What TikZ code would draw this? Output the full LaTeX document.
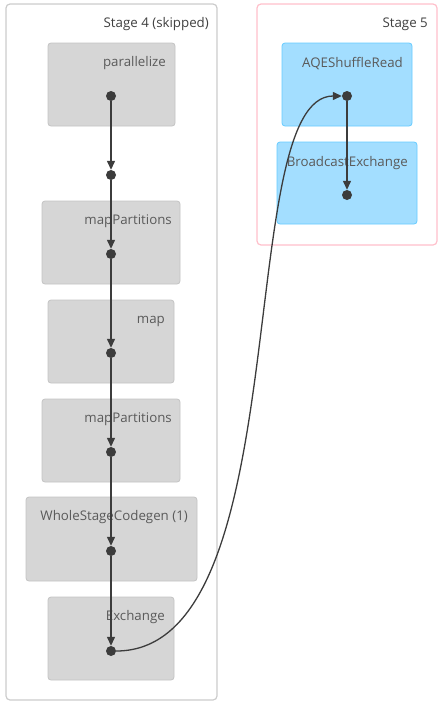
\documentclass[tikz,border=0pt]{standalone}
\usepackage{fontspec}
\setmainfont{Open Sans}
\usetikzlibrary{arrows.meta}
\definecolor{stageborder}{HTML}{CCCCCC}
\definecolor{stageborderB}{HTML}{FFC0CB}
\definecolor{opfill}{HTML}{D6D6D6}
\definecolor{opdraw}{HTML}{C4C4C4}
\definecolor{bfill}{HTML}{A3DEFF}
\definecolor{bdraw}{HTML}{66CCFF}
\definecolor{edgec}{HTML}{3C3C3C}
\definecolor{txtc}{HTML}{5A5A5A}
\begin{document}
\begin{tikzpicture}[x=1pt,y=-1pt,
  stagebox/.style={draw=stageborder,line width=1.2pt,rounded corners=4pt,fill=white},
  opbox/.style={draw=opdraw,fill=opfill,line width=0.8pt,rounded corners=3pt},
  bluebox/.style={draw=bdraw,fill=bfill,line width=0.8pt,rounded corners=3pt},
  optext/.style={anchor=east,font=\fontsize{13.3}{15}\selectfont,text=txtc,inner sep=0pt},
  stagetext/.style={anchor=east,font=\fontsize{13.3}{15}\selectfont,text=black!75,inner sep=0pt},
  dot/.style={circle,fill=edgec,inner sep=0pt,minimum size=10pt},
  edge/.style={draw=edgec,line width=1.3pt,-{Triangle[length=9pt,width=8pt]}}
]
\useasboundingbox (0,0) rectangle (443,704);
% stages
\draw[stagebox] (6,4) rectangle (217,700);
\node[stagetext] (s4) at (209,24) {Stage 4 (skipped)};
\draw[stagebox,draw=stageborderB] (257,4) rectangle (437,245);
\node[stagetext] (s5) at (428,24) {Stage 5};
% operator boxes
\draw[opbox] (48,43) rectangle (175,126);
\node[optext] (t1) at (166,63.5) {parallelize};
\draw[opbox] (42,201) rectangle (180,284);
\node[optext] (t2) at (172,221.5) {mapPartitions};
\draw[opbox] (48,300) rectangle (174,383);
\node[optext] (t3) at (165,321.5) {map};
\draw[opbox] (42,399) rectangle (180,482);
\node[optext] (t4) at (172,419.5) {mapPartitions};
\draw[opbox] (26,497) rectangle (197,581);
\node[optext] (t5) at (188,517.5) {WholeStageCodegen (1)};
\draw[opbox] (48,597) rectangle (174,680);
\node[optext] (t6) at (165,617.5) {Exchange};
\draw[bluebox] (282,43) rectangle (412,126);
\node[optext] (t7) at (403,63.5) {AQEShuffleRead};
\draw[bluebox] (277,142) rectangle (417,224);
\node[optext] (t8) at (408,163.5) {BroadcastExchange};
% dots
\node[dot] (d1) at (111,96) {};
\node[dot] (d2) at (111,175) {};
\node[dot] (d3) at (111,254) {};
\node[dot] (d4) at (111,353) {};
\node[dot] (d5) at (111,452) {};
\node[dot] (d6) at (111,551) {};
\node[dot] (d7) at (111,651) {};
\node[dot] (d8) at (347,96) {};
\node[dot] (d9) at (347,195) {};
% edges
\draw[edge] (d1) -- (d2);
\draw[edge] (d2) -- (d3);
\draw[edge] (d3) -- (d4);
\draw[edge] (d4) -- (d5);
\draw[edge] (d5) -- (d6);
\draw[edge] (d6) -- (d7);
\draw[edge] (d8) -- (d9);
\draw[edge] (d7.east) .. controls (300,651) and (232,96) .. (d8.west);
\end{tikzpicture}
\end{document}
